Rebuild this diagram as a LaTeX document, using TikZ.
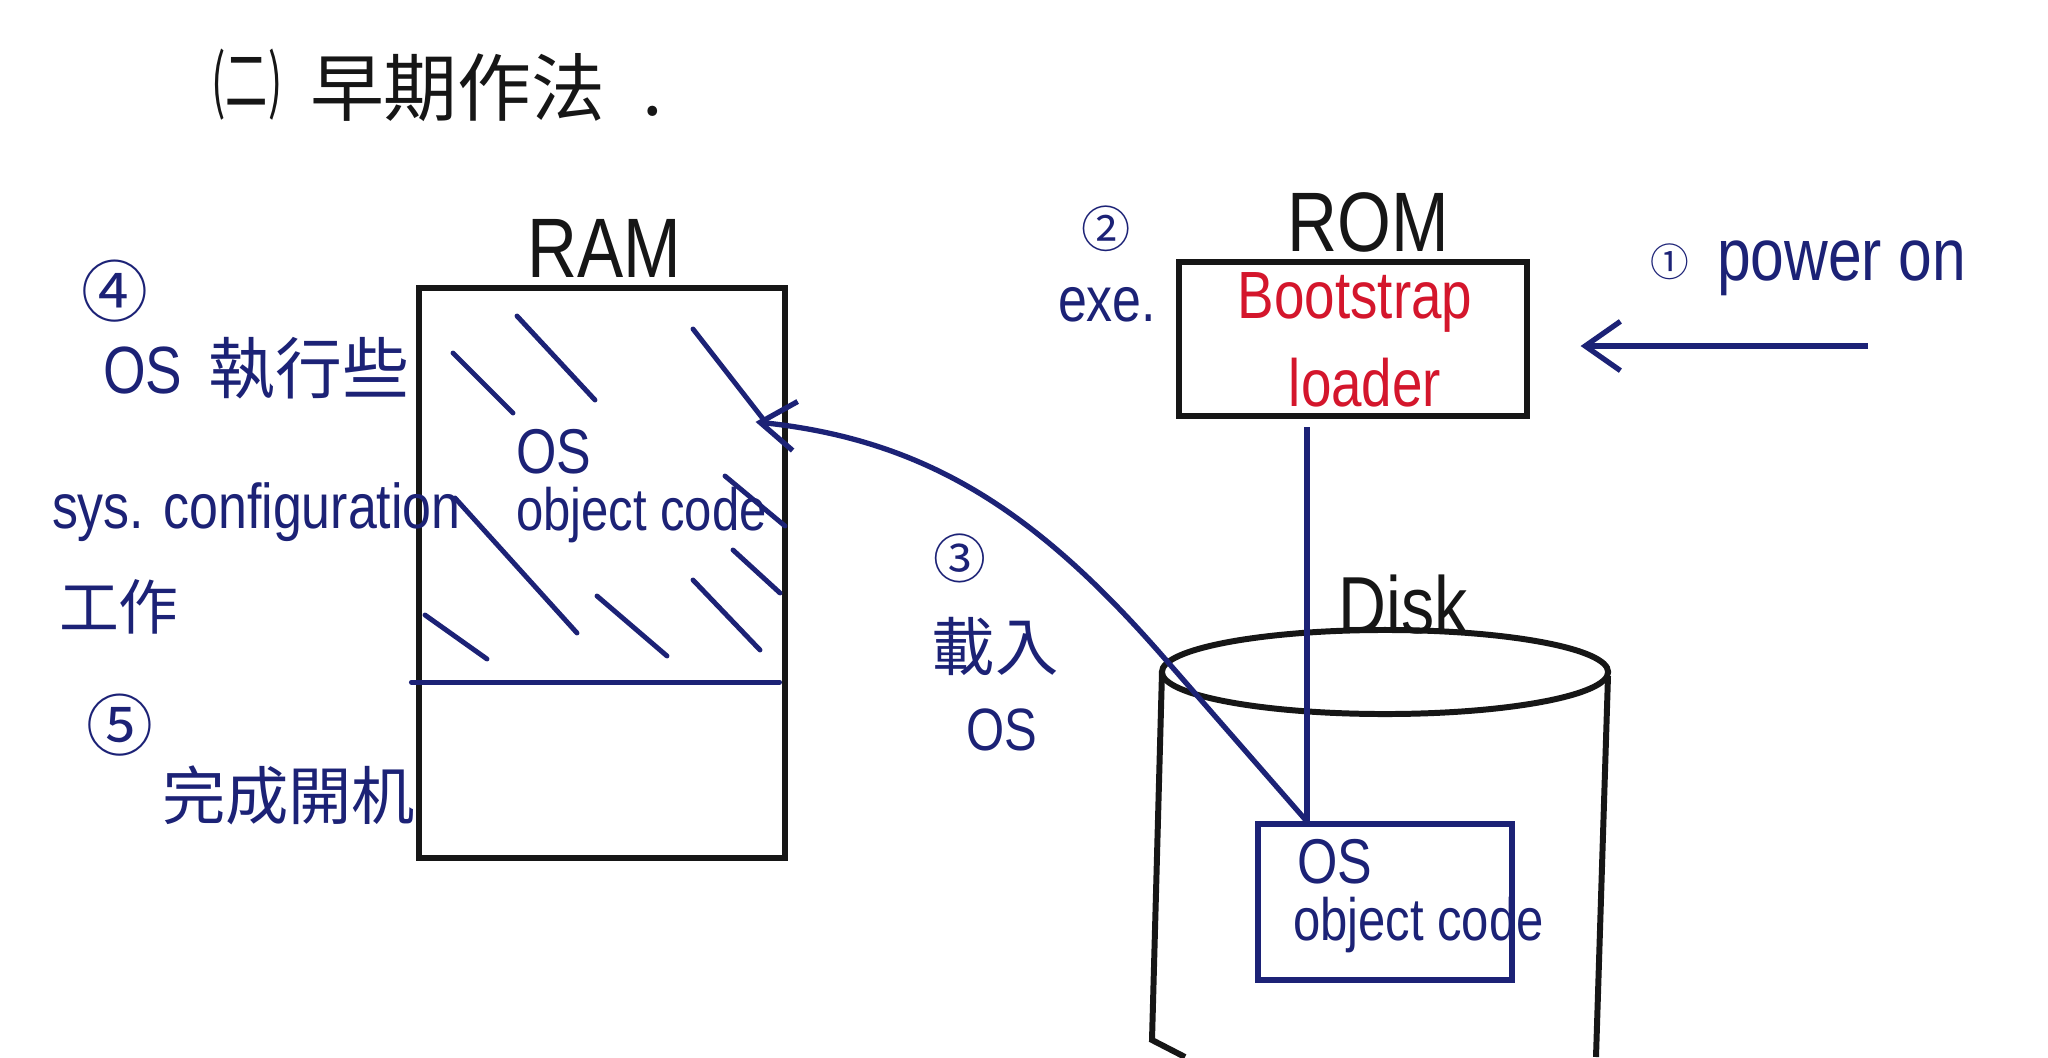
\documentclass[tikz,border=0pt]{standalone}
\usepackage{fontspec}
\setmainfont{Liberation Sans}[FakeStretch=0.82]
\newfontfamily\cjk{Noto Sans CJK TC}
\usetikzlibrary{arrows.meta,calc}
\definecolor{ink}{RGB}{28,34,118}
\definecolor{redink}{RGB}{212,22,44}
\definecolor{pen}{RGB}{22,22,22}
\newcommand{\myfs}[1]{\fontsize{#1}{#1}\selectfont}
\begin{document}
\begin{tikzpicture}[x=0.01cm,y=-0.01cm,
  lbl/.style={inner sep=0pt, outer sep=0pt},
  blk/.style={lbl, text=pen},
  blu/.style={lbl, text=ink},
  box/.style={draw=pen, line width=1.7pt, inner sep=0pt},
  bluebox/.style={draw=ink, line width=1.7pt, inner sep=0pt},
  hatch/.style={ink, line width=1.4pt, line cap=round},
  conn/.style={ink, line width=1.5pt},
  tip/.style={-{Straight Barb[length=10pt,width=14pt,line width=1.5pt]}}]
\useasboundingbox (0,0) rectangle (2048,1057);
\fill[white] (0,0) rectangle (2048,1057);

% title
\node[blk] (t1) at (247,85) {\cjk\myfs{20}\scalebox{0.6}[1]{(二)}};
\node[blk, anchor=west] (t2) at (310,88) {\cjk\myfs{21}早期作法\hspace{0.5em}.};

% RAM
\node[blk] (ramlbl) at (604,248) {\myfs{24}RAM};
\node[box, minimum width=3.65cm, minimum height=5.7cm] (ram) at (602,573) {};
\draw[hatch] (517,316) -- (595,400);
\draw[hatch] (453,353) -- (513,413);
\draw[hatch] (693,329) -- (767,424);
\draw[hatch] (455,498) -- (577,633);
\draw[hatch] (725,476) -- (785,526);
\draw[hatch] (733,550) -- (780,593);
\draw[hatch] (693,580) -- (760,650);
\draw[hatch] (597,596) -- (667,656);
\draw[hatch] (425,615) -- (487,659);
\draw[hatch] ([xshift=-0.05cm,yshift=1.79cm]ram.south west) -- ([xshift=-0.08cm,yshift=1.79cm]ram.south east);
\node[blu, anchor=west] (ramos) at (516,452) {\myfs{18}OS};
\node[blu, anchor=west] (ramobj) at (516,515) {\myfs{17}object code};

% ROM
\node[blk] (romlbl) at (1368,222) {\myfs{24}ROM};
\node[box, minimum width=3.47cm, minimum height=1.54cm] (rom) at (1353,339) {};
\node[lbl, text=redink, align=center, font=\fontsize{19}{25}\selectfont] (boot) at (1355,340) {Bootstrap\\\hspace{0.3em}loader};

% Disk
\node[blk] (disklbl) at (1403,605) {\myfs{23}Disk};
\draw[pen, line width=1.7pt] (1385,672) ellipse [x radius=2.23cm, y radius=0.42cm];
\draw[pen, line width=1.7pt] (1162,672) -- (1152,1040) -- (1185,1057);
\draw[pen, line width=1.7pt] (1608,676) -- (1596,1057);
\coordinate (disktl) at (1166,660);
\node[bluebox, minimum width=2.54cm, minimum height=1.55cm] (dbox) at (1385,902) {};
\node[blu, anchor=west] (dos) at (1297,862) {\myfs{18}OS};
\node[blu, anchor=west] (dobj) at (1293,925) {\myfs{17}object code};

% connectors
\coordinate (dtop) at ($(dbox.north west)!0.2!(dbox.north east)$);
\coordinate (ramin) at ([xshift=-0.32cm,yshift=1.51cm]ram.east);
\coordinate (pw) at (1868,346);
\draw[conn] ([yshift=-0.08cm]rom.south -| dtop) -- (dtop);
\draw[conn,tip] (dtop) -- (disktl) .. controls (1040,515) and (930,440) .. (ramin);
\draw[conn,tip] (pw) -- ([xshift=0.51cm]rom.east |- pw);

% left annotations
\node[blu] (n4) at (115,291) {\cjk\myfs{19}④};
\node[blu, anchor=west] (l4a) at (103,368) {\myfs{19}OS\hspace{0.4em}{\cjk 執行些}};
\node[blu, anchor=west] (l4b) at (52,512) {\myfs{18}sys. configuration};
\node[blu, anchor=west] (l4c) at (59,607) {\cjk\myfs{17}工作};
\node[blu] (n5) at (120,725) {\cjk\myfs{19}⑤};
\node[blu, anchor=west] (l5) at (162,795) {\cjk\myfs{18}完成開机};

% step 3
\node[blu] (n3) at (960,558) {\cjk\myfs{15}③};
\node[blu] (l3a) at (995,646) {\cjk\myfs{18}載入};
\node[blu] (l3b) at (1002,730) {\myfs{17}OS};

% step 2
\node[blu] (n2) at (1106,229) {\cjk\myfs{14}②};
\node[blu, anchor=west] (l2) at (1058,305) {\myfs{18}exe.};

% step 1
\node[blu] (n1) at (1670,262) {\cjk\myfs{11}①};
\node[blu, anchor=west] (l1) at (1717,268) {\myfs{21}power on};
\end{tikzpicture}
\end{document}
